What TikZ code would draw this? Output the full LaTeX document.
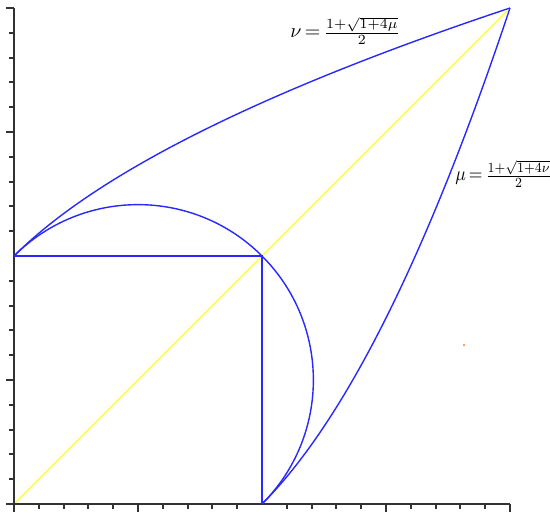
\documentclass[tikz,border=0pt]{standalone}
\usepackage{amsmath}
\usepackage{graphicx}
\definecolor{curveblue}{RGB}{40,40,255}
\definecolor{diagyellow}{RGB}{255,255,40}
\definecolor{dotorange}{RGB}{250,160,110}
\definecolor{axisgray}{RGB}{50,50,50}
\begin{document}
\begin{tikzpicture}[x=124pt,y=124pt,
  axisline/.style={draw=axisgray,line width=1pt},
  shorttick/.style={draw=axisgray,line width=1pt},
  curve/.style={draw=curveblue,line width=0.7pt},
  seg/.style={draw=curveblue,line width=0.8pt},
  lbl/.style={inner sep=0pt,anchor=west,execute at begin node={\thickmuskip=3mu}}]
\useasboundingbox (-0.05645,-0.040323) rectangle (2.16129,2.032258);
\coordinate (O) at (0,0);
\coordinate (X) at (2,0);
\coordinate (Y) at (0,2);
\coordinate (A) at (0,1);
\coordinate (B) at (1,1);
\coordinate (C) at (1,0);
\coordinate (D) at (2,2);
% diagonal
\draw[diagyellow,line width=0.6pt] (O) -- (D);
% axes
\draw[axisline] (O) -- (X);
\draw[axisline] (O) -- (Y);
\foreach \t in {0.1,0.2,0.3,0.4,0.6,0.7,0.8,0.9,1.1,1.2,1.3,1.4,1.6,1.7,1.8,1.9}{
  \draw[shorttick] (\t,0) -- ++(0,-2.5pt);
  \draw[shorttick] (0,\t) -- ++(-2.5pt,0);
}
\foreach \t in {0,0.5,1.5,2}{
  \draw[shorttick] (\t,0) -- ++(0,-4pt);
  \draw[shorttick] (0,\t) -- ++(-4pt,0);
}
% square lines
\draw[seg] (A) -- (B) -- (C);
% arc
\draw[curve] (A) arc[start angle=135,end angle=-45,radius=0.70711];
% curves
\draw[curve] plot[domain=0:2,samples=80,smooth] (\x,{(1+sqrt(1+4*\x))/2});
\draw[curve] plot[domain=0:2,samples=80,smooth] ({(1+sqrt(1+4*\x))/2},\x);
% labels
\node[lbl] (nulabel) at (1.1129,1.9073) {$\nu=\frac{1+\sqrt{1+4\mu}}{2}$};
\node[lbl] (mulabel) at (1.7782,1.3306) {\scalebox{0.88}[1]{$\mu=\frac{1+\sqrt{1+4\nu}}{2}$}};
% dot
\fill[dotorange] (1.8105,0.6371) rectangle ++(1pt,1pt);
\end{tikzpicture}
\end{document}
